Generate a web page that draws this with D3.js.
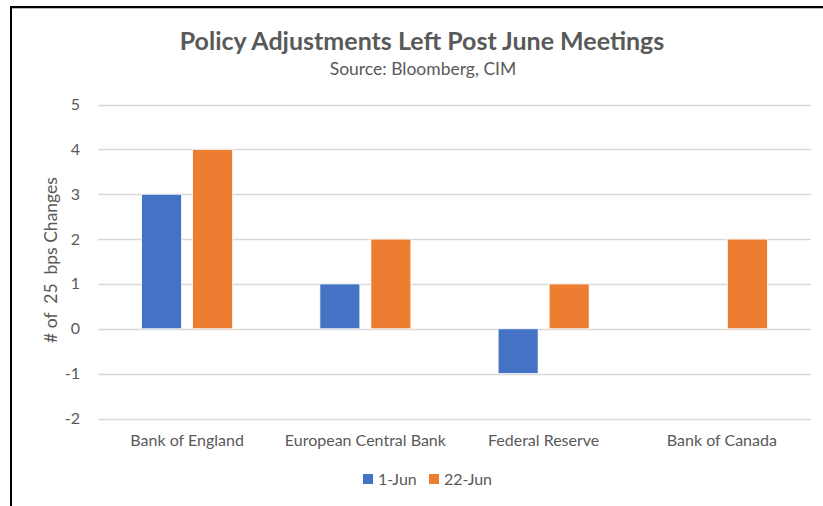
<!DOCTYPE html>
<html>
<head>
<meta charset="utf-8">
<script src="https://cdn.jsdelivr.net/npm/d3@7"></script>
<style>
  body { margin: 0; background: #fff; }
  svg { display: block; }
</style>
</head>
<body>
<svg id="chart" width="823" height="506"></svg>
<script>
// Daten
const banks = ["Bank of England", "European Central Bank", "Federal Reserve", "Bank of Canada"];
const seriesNames = ["1-Jun", "22-Jun"];
const jun1 = [3, 1, -1, 0];
const jun22 = [4, 2, 1, 2];
const yTicks = [-2, -1, 0, 1, 2, 3, 4, 5];
const colors = ["#4472C4", "#ED7D31"];

const svg = d3.select("#chart");
const font = "Lato, 'Open Sans', sans-serif";
const grey = "#595959";

// Rahmen oben und links (Screenshot-Ausschnitt)
svg.append("line").attr("x1", 11).attr("x2", 823).attr("y1", 7).attr("y2", 7)
  .attr("stroke", "#000").attr("stroke-width", 2);
svg.append("line").attr("x1", 11).attr("x2", 823).attr("y1", 8.5).attr("y2", 8.5)
  .attr("stroke", "#bbb").attr("stroke-width", 1);
svg.append("line").attr("x1", 11).attr("x2", 11).attr("y1", 6).attr("y2", 506)
  .attr("stroke", "#000").attr("stroke-width", 2);

// Skalen
const left = 98, right = 811;
const y = d3.scaleLinear().domain([-2, 5]).range([418.5, 104.5]);
const x0 = d3.scaleBand().domain(banks).range([left, right]).padding(0);
const x1 = d3.scaleBand().domain(seriesNames).range([0, x0.bandwidth()])
  .paddingInner(0.216).paddingOuter(0.855);

// Gitterlinien
svg.append("g").selectAll("line").data(yTicks).join("line")
  .attr("x1", left).attr("x2", right)
  .attr("y1", d => Math.round(y(d)) + 0.5).attr("y2", d => Math.round(y(d)) + 0.5)
  .attr("stroke", "#d9d9d9").attr("stroke-width", 1.3);

// Y-Achse Beschriftung
svg.append("g").selectAll("text").data(yTicks).join("text")
  .attr("x", 80).attr("y", d => y(d) + 5.5)
  .attr("text-anchor", "end")
  .attr("font-family", font).attr("font-size", 16).attr("fill", grey)
  .text(d => d);

// Balken
const rows = banks.map((b, i) => ({ bank: b, values: [jun1[i], jun22[i]] }));
const grp = svg.append("g").selectAll("g").data(rows).join("g")
  .attr("transform", d => `translate(${x0(d.bank)},0)`);
grp.selectAll("rect")
  .data(d => d.values.map((v, j) => ({ key: seriesNames[j], value: v, j })).filter(e => e.value !== 0))
  .join("rect")
  .attr("x", d => x1(d.key))
  .attr("width", x1.bandwidth())
  .attr("y", d => y(Math.max(0, d.value)))
  .attr("height", d => Math.abs(y(d.value) - y(0)))
  .attr("fill", d => colors[d.j])
  .attr("stroke", "#fff").attr("stroke-width", 0.8);

// Kategorien
svg.append("g").selectAll("text").data(banks).join("text")
  .attr("x", d => x0(d) + x0.bandwidth() / 2).attr("y", 446)
  .attr("text-anchor", "middle")
  .attr("font-family", font).attr("font-size", 16).attr("fill", grey)
  .text(d => d);

// Titel
svg.append("text").attr("x", 422).attr("y", 50)
  .attr("text-anchor", "middle").attr("font-family", font)
  .attr("font-size", 25).attr("font-weight", "bold").attr("fill", grey)
  .text("Policy Adjustments Left Post June Meetings");
svg.append("text").attr("x", 423).attr("y", 75)
  .attr("text-anchor", "middle").attr("font-family", font)
  .attr("font-size", 17.5).attr("fill", grey)
  .text("Source: Bloomberg, CIM");

// Y-Achsentitel (mit doppelten Leerzeichen wie im Original)
svg.append("text")
  .attr("transform", "translate(57,260) rotate(-90)")
  .attr("text-anchor", "middle").attr("font-family", font)
  .attr("font-size", 17.5).attr("fill", grey)
  .style("white-space", "pre")
  .text("# of  25  bps Changes");

// Legende
const legendX = [363, 429];
const lg = svg.append("g").selectAll("g").data(seriesNames).join("g")
  .attr("transform", (d, i) => `translate(${legendX[i]},474)`);
lg.append("rect").attr("width", 10).attr("height", 10).attr("fill", (d, i) => colors[i]);
lg.append("text").attr("x", 15).attr("y", 10.5)
  .attr("font-family", font).attr("font-size", 16).attr("fill", grey)
  .text(d => d);
</script>
</body>
</html>
